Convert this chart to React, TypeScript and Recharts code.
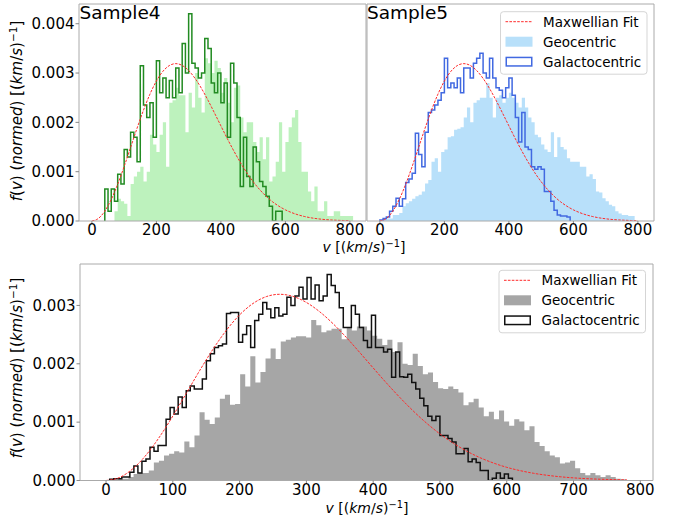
import React from 'react';
import { ComposedChart, Area, Line, XAxis, YAxis, ReferenceLine, Customized } from 'recharts';

const FONT = '"DejaVu Sans", Verdana, sans-serif';

// Maxwellian fit curve (f in units of 1e-3)
const fitV = [0, 20, 40, 60, 80, 100, 120, 140, 160, 180, 200, 220, 240, 260, 280, 300, 320, 340, 360, 380, 400,
  420, 440, 460, 480, 500, 520, 540, 560, 580, 600, 620, 640, 660, 680, 700, 720, 740, 760, 780, 800];
const fitF = [0, 0.051, 0.2, 0.437, 0.746, 1.105, 1.491, 1.88, 2.247, 2.572, 2.838, 3.033, 3.151, 3.191, 3.155,
  3.051, 2.891, 2.686, 2.449, 2.192, 1.929, 1.669, 1.422, 1.191, 0.982, 0.798, 0.639, 0.504, 0.391, 0.3, 0.226,
  0.169, 0.124, 0.09, 0.064, 0.045, 0.031, 0.022, 0.015, 0.01, 0.006];

// Sample4 (values in units of 1e-3)
const s4GeoStart = 70;
const s4GeoWidth = 10;
const s4GeoValues = [0.2, 0.45, 0.4, 0.35, 0.1, 0.75, 0.9, 1.0, 1.1, 0.8,
  1.0, 1.75, 1.55, 1.4, 1.75, 2.0, 1.1, 2.4, 2.45, 2.7,
  2.55, 2.55, 1.8, 2.6, 2.3, 3.0, 2.5, 2.2, 3.3, 3.2,
  3.0, 3.25, 3.1, 2.6, 2.9, 2.4, 2.0, 2.7, 2.75, 2.1,
  1.8, 2.0, 2.0, 1.6, 1.4, 1.7, 1.25, 1.7, 0.8, 0.9,
  1.2, 2.0, 1.0, 1.6, 1.9, 2.1, 2.25, 1.6, 1.0, 1.0,
  0.6, 0.4, 0.7, 0.2, 0.2, 0.4, 0.1, 0.1, 0.2, 0.2,
  0.1, 0.1, 0.1, 0.1];
const s4GalStart = 40;
const s4GalWidth = 10;
const s4GalValues = [0.65, 0.2, 0.65, 0.4, 0.95, 0.75, 1.45, 1.3, 1.8, 1.7,
  1.2, 3.15, 2.35, 2.1, 2.4, 1.7, 3.25, 2.6, 2.9, 2.5,
  2.85, 2.5, 3.1, 2.6, 3.6, 3.0, 4.2, 3.2, 3.1, 2.9,
  3.0, 3.7, 3.5, 2.8, 2.6, 3.0, 2.4, 2.8, 1.7, 3.2,
  2.8, 2.1, 0.7, 1.7, 0.9, 0.7, 1.5, 1.2, 0.8, 0.7,
  0.5, 0.3, 0.0, 0.2, 0.2];

// Sample5
const s5GeoStart = 10;
const s5GeoWidth = 10;
const s5GeoValues = [0.05, 0.05, 0.05, 0.12, 0.12, 0.16, 0.3, 0.36, 0.4, 0.45,
  0.5, 0.53, 0.6, 0.76, 0.83, 1.2, 1.27, 1.0, 1.4, 1.45,
  1.7, 1.72, 1.85, 1.87, 1.9, 2.1, 2.3, 2.0, 2.4, 2.45,
  2.5, 2.5, 2.8, 2.5, 2.1, 2.5, 2.55, 2.4, 2.5, 2.6,
  2.5, 2.4, 2.3, 2.5, 2.3, 2.1, 2.0, 1.75, 1.7, 1.55,
  1.45, 1.4, 1.8, 1.3, 1.7, 1.5, 1.45, 1.27, 1.2, 1.2,
  1.2, 1.1, 1.1, 0.9, 0.95, 0.85, 0.6, 0.58, 0.46, 0.4,
  0.33, 0.3, 0.2, 0.15, 0.12, 0.12, 0.1, 0.1];
const s5GalStart = 0;
const s5GalWidth = 10;
const s5GalValues = [0.02, 0.05, 0.08, 0.2, 0.3, 0.46, 0.3, 0.45, 0.78, 0.85,
  0.97, 1.78, 1.35, 1.1, 1.8, 2.2, 2.25, 2.35, 2.45, 2.6,
  3.3, 2.7, 2.8, 2.7, 2.9, 2.6, 3.1, 3.1, 2.9, 3.2,
  3.3, 3.4, 3.0, 2.9, 3.3, 2.9, 2.7, 2.65, 2.5, 2.7,
  2.9, 2.55, 2.1, 1.6, 2.2, 1.5, 1.45, 1.1, 1.05, 1.1,
  1.05, 0.6, 0.6, 0.4, 0.22, 0.12, 0.1, 0.1, 0.08];

// Combined (bottom)
const allGeoStart = 18.4;
const allGeoWidth = 7.6;
const allGeoValues = [0.03, 0.03, 0.06, 0.11, 0.13, 0.13, 0.17, 0.31, 0.34, 0.43,
  0.46, 0.5, 0.48, 0.67, 0.57, 0.77, 1.17, 1.04, 0.97, 1.08,
  1.4, 1.47, 1.3, 1.31, 1.82, 1.61, 2.13, 1.68, 1.86, 2.09,
  2.26, 2.08, 2.38, 2.41, 2.45, 2.47, 2.47, 2.45, 2.75, 2.66,
  2.54, 2.57, 2.6, 2.6, 2.42, 2.62, 2.57, 2.64, 2.64, 2.57,
  2.48, 2.43, 2.32, 2.41, 2.2, 2.37, 2.0, 1.98, 2.17, 1.96,
  1.82, 1.85, 1.69, 1.58, 1.57, 1.61, 1.57, 1.51, 1.29, 1.34,
  1.4, 1.25, 1.1, 1.18, 1.05, 1.2, 1.01, 0.94, 1.05, 1.01,
  0.86, 0.93, 0.66, 0.59, 0.5, 0.43, 0.4, 0.29, 0.31, 0.34,
  0.21, 0.13, 0.09, 0.13, 0.09, 0.06, 0.09, 0.06, 0.03, 0.02];
const allGalStart = 5.5;
const allGalWidth = 6.03;
const allGalValues = [0.02, 0.03, 0.03, 0.06, 0.06, 0.14, 0.25, 0.13, 0.33, 0.37,
  0.57, 0.5, 0.6, 0.6, 1.05, 1.25, 1.14, 1.43, 1.25, 1.54,
  1.62, 1.57, 1.57, 1.74, 2.05, 2.17, 2.28, 2.31, 2.34, 2.86,
  2.88, 2.88, 2.37, 2.5, 2.65, 2.28, 2.74, 2.85, 3.05, 2.94,
  2.79, 2.96, 2.82, 2.85, 3.14, 3.0, 3.16, 3.31, 3.11, 3.48,
  3.11, 3.35, 3.08, 3.16, 3.53, 3.34, 3.22, 2.96, 2.62, 2.62,
  3.0, 2.85, 2.62, 2.4, 2.28, 2.83, 2.28, 2.28, 2.2, 2.25,
  1.77, 2.2, 1.78, 1.77, 1.82, 1.68, 1.57, 1.41, 1.28, 1.1,
  1.03, 1.1, 0.77, 0.77, 0.72, 0.66, 0.46, 0.46, 0.55, 0.32,
  0.37, 0.31, 0.17, 0.17, 0.0, 0.04, 0.13, 0.04, 0.11, 0.04];

const topXTicks = [0, 200, 400, 600, 800];
const topYTicks = [0, 0.001, 0.002, 0.003, 0.004];
const bottomXTicks = [0, 100, 200, 300, 400, 500, 600, 700, 800];
const bottomYTicks = [0, 0.001, 0.002, 0.003];
const legendLabels = ['Maxwellian Fit', 'Geocentric', 'Galactocentric'];

const SCALE = 1e-3;

type Row = { x: number; [k: string]: number };

function stepFill(start: number, width: number, vals: number[], key: string): Row[] {
  const rows: Row[] = vals.map((v, i) => ({ x: start + i * width, [key]: v * SCALE }));
  rows.push({ x: start + vals.length * width, [key]: vals[vals.length - 1] * SCALE });
  return rows;
}

function stepOutline(start: number, width: number, vals: number[], key: string): Row[] {
  const rows: Row[] = [{ x: start, [key]: 0 }];
  vals.forEach((v, i) => rows.push({ x: start + i * width, [key]: v * SCALE }));
  const end = start + vals.length * width;
  rows.push({ x: end, [key]: vals[vals.length - 1] * SCALE });
  rows.push({ x: end, [key]: 0 });
  return rows;
}

function fitRows(maxV: number): Row[] {
  return fitV.filter((v) => v <= maxV).map((v, i) => ({ x: v, fit: fitF[i] * SCALE }));
}

const s4Data = [
  ...stepFill(s4GeoStart, s4GeoWidth, s4GeoValues, 'geo'),
  ...stepOutline(s4GalStart, s4GalWidth, s4GalValues, 'gal'),
  ...fitRows(800),
];
const s5Data = [
  ...stepFill(s5GeoStart, s5GeoWidth, s5GeoValues, 'geo'),
  ...stepOutline(s5GalStart, s5GalWidth, s5GalValues, 'gal'),
  ...fitRows(800),
];
const allData = [
  ...stepFill(allGeoStart, allGeoWidth, allGeoValues, 'geo'),
  ...stepOutline(allGalStart, allGalWidth, allGalValues, 'gal'),
  ...fitRows(780),
];

const SPINE = '#aaaaaa';
const TICKC = '#888888';
const FIT = '#ff2a2a';
const FIT_DASH = '2.6 1.3';

const tickStyle = { fill: '#000', fontSize: 15, fontFamily: FONT };

const Sup = ({ fs }: { fs: number }) => (
  <>
    <tspan dy={-0.35 * fs} fontSize={fs * 0.7}>{'\u22121'}</tspan>
    <tspan dy={0.35 * fs}>]</tspan>
  </>
);

const YLabel = ({ x, y }: { x: number; y: number }) => (
  <text transform={`translate(${x},${y}) rotate(-90)`} textAnchor="middle" fontFamily={FONT} fontSize={15} fill="#000">
    <tspan fontStyle="italic">f</tspan>(<tspan fontStyle="italic">v</tspan>){' '}(<tspan fontStyle="italic">normed</tspan>){' '}[(<tspan fontStyle="italic">km</tspan>/<tspan fontStyle="italic">s</tspan>)<Sup fs={15} />
  </text>
);

const XLabel = ({ x, y }: { x: number; y: number }) => (
  <text x={x} y={y} textAnchor="middle" fontFamily={FONT} fontSize={14} fill="#000">
    <tspan fontStyle="italic">v</tspan>{' '}[(<tspan fontStyle="italic">km</tspan>/<tspan fontStyle="italic">s</tspan>)<Sup fs={14} />
  </text>
);

const LegendBox = ({ x, y, geoFill, galStroke }: { x: number; y: number; geoFill: string; galStroke: string }) => (
  <g fontFamily={FONT} fontSize={13.5} fill="#000">
    <rect x={x} y={y} width={146.5} height={62.5} rx={3} fill="#ffffff" fillOpacity={0.85} stroke="#d5d5d5" strokeWidth={1} />
    <line x1={x + 5} x2={x + 32} y1={y + 10} y2={y + 10} stroke={FIT} strokeWidth={1} strokeDasharray={FIT_DASH} />
    <text x={x + 42.6} y={y + 14.8} fill="#000">{legendLabels[0]}</text>
    <rect x={x + 5} y={y + 25} width={27} height={10} fill={geoFill} />
    <text x={x + 42.6} y={y + 34.8} fill="#000">{legendLabels[1]}</text>
    <rect x={x + 5.75} y={y + 45.75} width={25.5} height={8.5} fill="none" stroke={galStroke} strokeWidth={1.5} />
    <text x={x + 42.6} y={y + 54.8} fill="#000">{legendLabels[2]}</text>
  </g>
);

const Title = ({ x, y, text }: { x: number; y: number; text: string }) => (
  <text x={x} y={y} fontFamily={FONT} fontSize={18.5} fill="#000">{text}</text>
);

function renderSeries(geoFill: string, galStroke: string) {
  return [
    <Area key="geo" type="stepAfter" dataKey="geo" stroke="none" fill={geoFill} fillOpacity={1}
      connectNulls isAnimationActive={false} dot={false} activeDot={false} />,
    <Line key="gal" type="stepAfter" dataKey="gal" stroke={galStroke} strokeWidth={1.5}
      connectNulls isAnimationActive={false} dot={false} activeDot={false} />,
    <Line key="fit" type="monotone" dataKey="fit" stroke={FIT} strokeWidth={1} strokeDasharray={FIT_DASH}
      connectNulls isAnimationActive={false} dot={false} activeDot={false} />,
  ];
}

const TOP_X_DOMAIN: [number, number] = [-40, 850];
const TOP_Y_DOMAIN: [number, number] = [0, 0.0044];
const BOT_X_DOMAIN: [number, number] = [-39, 819];
const BOT_Y_DOMAIN: [number, number] = [0, 0.00371];

export default function App() {
  return (
    <div style={{ position: 'absolute', left: 0, top: 0, width: 682, height: 520, background: '#fff' }}>
      {/* Sample4 */}
      <div style={{ position: 'absolute', left: 0, top: 0 }}>
        <ComposedChart width={370} height={250} data={s4Data} margin={{ top: 4, right: 4, left: 0, bottom: 0 }}>
          <XAxis type="number" dataKey="x" domain={TOP_X_DOMAIN} allowDataOverflow ticks={topXTicks}
            tickSize={3.5} tickMargin={0} tick={tickStyle} axisLine={{ stroke: SPINE }} tickLine={{ stroke: TICKC }} height={29} />
          <YAxis type="number" domain={TOP_Y_DOMAIN} allowDataOverflow ticks={topYTicks} tickFormatter={(v: number) => v.toFixed(3)}
            tickSize={3.5} tickMargin={1} tick={tickStyle} axisLine={{ stroke: SPINE }} tickLine={{ stroke: TICKC }} width={79} />
          {renderSeries('#bdf2bd', '#228b22')}
          <ReferenceLine y={TOP_Y_DOMAIN[1]} stroke={SPINE} />
          <ReferenceLine x={TOP_X_DOMAIN[1]} stroke={SPINE} />
          <Customized component={() => (
            <g>
              <Title x={79.5} y={18.5} text="Sample4" />
              <YLabel x={22} y={111} />
            </g>
          )} />
        </ComposedChart>
      </div>
      {/* Sample5 */}
      <div style={{ position: 'absolute', left: 0, top: 0 }}>
        <ComposedChart width={682} height={255} data={s5Data} margin={{ top: 4, right: 28, left: 0, bottom: 0 }}>
          <XAxis type="number" dataKey="x" domain={TOP_X_DOMAIN} allowDataOverflow ticks={topXTicks}
            tickSize={3.5} tickMargin={0} tick={tickStyle} axisLine={{ stroke: SPINE }} tickLine={{ stroke: TICKC }} height={34} />
          <YAxis type="number" domain={TOP_Y_DOMAIN} allowDataOverflow ticks={topYTicks}
            tickSize={3.5} tick={false} axisLine={{ stroke: SPINE }} tickLine={{ stroke: TICKC }} width={367} />
          {renderSeries('#b8e0fa', '#4169e1')}
          <ReferenceLine y={TOP_Y_DOMAIN[1]} stroke={SPINE} />
          <ReferenceLine x={TOP_X_DOMAIN[1]} stroke={SPINE} />
          <Customized component={() => (
            <g>
              <Title x={367} y={18.5} text="Sample5" />
              <LegendBox x={500.5} y={11.7} geoFill="#b8e0fa" galStroke="#4169e1" />
              <XLabel x={364} y={252} />
            </g>
          )} />
        </ComposedChart>
      </div>
      {/* Combined */}
      <div style={{ position: 'absolute', left: 0, top: 255 }}>
        <ComposedChart width={682} height={265} data={allData} margin={{ top: 9, right: 29, left: 0, bottom: 0 }}>
          <XAxis type="number" dataKey="x" domain={BOT_X_DOMAIN} allowDataOverflow ticks={bottomXTicks}
            tickSize={3.5} tickMargin={0} tick={tickStyle} axisLine={{ stroke: SPINE }} tickLine={{ stroke: TICKC }} height={39.5} />
          <YAxis type="number" domain={BOT_Y_DOMAIN} allowDataOverflow ticks={bottomYTicks} tickFormatter={(v: number) => v.toFixed(3)}
            tickSize={3.5} tickMargin={1} tick={tickStyle} axisLine={{ stroke: SPINE }} tickLine={{ stroke: TICKC }} width={80} />
          {renderSeries('#a6a6a6', '#111111')}
          <ReferenceLine y={BOT_Y_DOMAIN[1]} stroke={SPINE} />
          <ReferenceLine x={BOT_X_DOMAIN[1]} stroke={SPINE} />
          <Customized component={() => (
            <g>
              <LegendBox x={499} y={15.3} geoFill="#a6a6a6" galStroke="#111111" />
              <YLabel x={22} y={113} />
              <XLabel x={367} y={257.5} />
            </g>
          )} />
        </ComposedChart>
      </div>
    </div>
  );
}
